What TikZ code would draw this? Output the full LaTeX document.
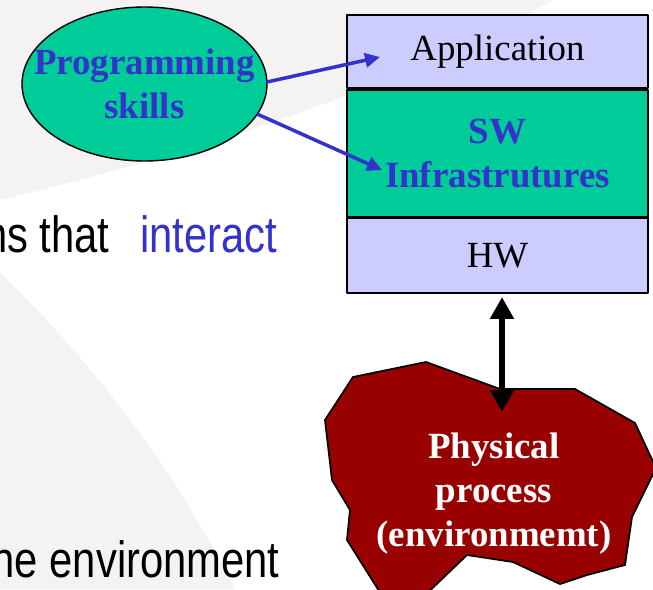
\documentclass[tikz,border=0pt]{standalone}
\usepackage{fontspec}
\setmainfont{Liberation Serif}
\newfontfamily\narrowsans{Liberation Sans}[FakeStretch=0.82]
\usepackage{tikz}
\usetikzlibrary{positioning, shapes.geometric, arrows.meta}

\definecolor{skillgreen}{RGB}{0,204,153}
\definecolor{layerblue}{RGB}{204,204,255}
\definecolor{textblue}{RGB}{51,51,204}
\definecolor{envred}{RGB}{153,0,0}
\definecolor{slidegray}{RGB}{244,242,242}

\tikzset{
  layer/.style={draw, line width=1pt, minimum width=6.02cm, outer sep=0pt, align=center, font={\fontsize{21}{25}\selectfont}},
  boldblue/.style={text=textblue, align=center, font={\bfseries\fontsize{21}{25}\selectfont}},
  slidetext/.style={inner sep=0pt, font={\narrowsans\fontsize{29}{34}\selectfont}},
  skillarrow/.style={textblue, line width=2pt, -{Triangle[length=8.5pt,width=8pt]}},
  iolink/.style={line width=3.4pt, {Triangle[length=12.5pt,width=13pt]}-{Triangle[length=12.5pt,width=13pt]}}
}

\begin{document}
\begin{tikzpicture}[x=0.02cm, y=-0.02cm, line join = round, line cap = round]

                % slide background
                \path[use as bounding box] (0,0) rectangle (653,589);
                \clip (0,0) rectangle (653,589);
                \fill[slidegray] (0,0) -- (553,0) .. controls (430,70) and (250,140) .. (0,200) -- cycle;
                \fill[slidegray] (0,273) .. controls (60,330) and (160,440) .. (235,589) -- (0,589) -- cycle;

                \node[slidetext, anchor=base east] (thattext) at (110,252) {ns that};
                \node[slidetext, anchor=base west, text=textblue] (interacttext) at (140,252) {interact};
                \node[slidetext, anchor=base east] (envline) at (280,577) {he environment};

                % programming skills
                \node[ellipse, draw, line width=0.8pt, fill=skillgreen, minimum width=4.9cm, minimum height=3.08cm] (skills) at (144.5,84) {};
                \node[boldblue] (skillstext) at (skills.center) {Programming\\skills};

                % layers
                \node[layer, fill=layerblue, minimum height=1.46cm] (app) at (497.5,51.5) {Application};
                \node[layer, fill=skillgreen, minimum height=2.54cm, below=0.04cm of app, text=textblue, font={\bfseries\fontsize{21}{25}\selectfont}] (sw) {SW\\Infrastrutures};
                \node[layer, fill=layerblue, minimum height=1.5cm, below=0.02cm of sw] (hw) {HW};

                % physical process
                \draw[line width=1pt, fill=envred] (353,377) -- (426,362) -- (500,389) -- (575,389) -- (635,423) -- (656,468)
                    -- (632,517) -- (625,565) -- (587,575) -- (560,584) -- (513,562) -- (467,555) -- (418,602)
                    -- (386,602) -- (347,540) -- (350,510) -- (332,480) -- (325,420) -- cycle;
                \node[boldblue, text=white] (envtext) at (494,494) {Physical\\process\\(environmemt)};

                \coordinate (apptip) at (380,57);
                \coordinate (swtip) at (382,170);
                \coordinate (hwtip) at (502,297);
                \coordinate (envtip) at (502,412);

                \draw[skillarrow] (skills.1) -- (apptip);
                \draw[skillarrow] (skills.-15.5) -- (swtip);
                \draw[iolink] (hwtip) -- (envtip);

\end{tikzpicture}
\end{document}
